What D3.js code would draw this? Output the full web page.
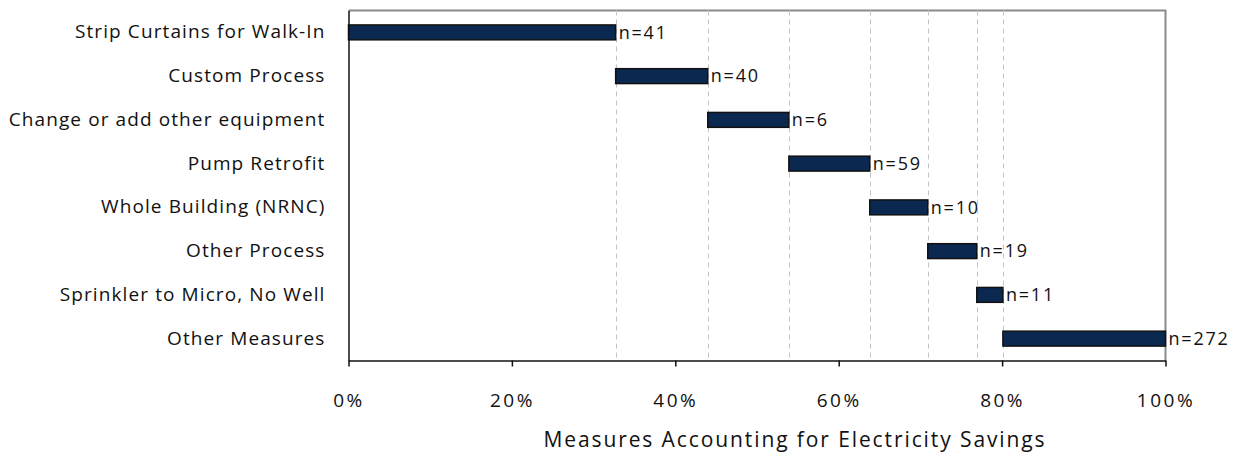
<!DOCTYPE html>
<html><head><meta charset="utf-8">
<script src="https://cdn.jsdelivr.net/npm/d3@7"></script>
<style>
body{margin:0;background:#fff;}
text{font-family:"Open Sans", Lato, sans-serif;fill:#111;}
</style></head>
<body><svg id="c" width="1235" height="456"></svg>
<script>
const categories = ["Strip Curtains for Walk-In","Custom Process","Change or add other equipment","Pump Retrofit","Whole Building (NRNC)","Other Process","Sprinkler to Micro, No Well","Other Measures"];
const cumulativeEnd = [0.327, 0.4397, 0.539, 0.638, 0.709, 0.769, 0.801, 1.0];
const counts = ["n=41","n=40","n=6","n=59","n=10","n=19","n=11","n=272"];
const xTicks = [0,0.2,0.4,0.6,0.8,1.0];
const xTitle = "Measures Accounting for Electricity Savings";

const data = categories.map((c,i)=>({cat:c, start: i===0?0:cumulativeEnd[i-1], end: cumulativeEnd[i], n: counts[i]}));

const svg = d3.select("#c");
const m = {l:348.5, r:1165.5, t:10.5, b:360.5};
const x = d3.scaleLinear().domain([0,1]).range([m.l, m.r]);
const y = d3.scaleBand().domain(categories).range([m.t, m.b]).paddingInner(0.66).paddingOuter(0.33);
const FF = "'Open Sans', Lato, sans-serif";

svg.append("path").attr("d",`M${m.l},${m.t}H${m.r}V${m.b}`).attr("fill","none").attr("stroke","#8a8a8a").attr("stroke-width",2);

svg.append("g").selectAll("line").data(cumulativeEnd.slice(0,-1)).join("line")
  .attr("x1",d=>Math.round(x(d))+0.5).attr("x2",d=>Math.round(x(d))+0.5)
  .attr("y1",m.t).attr("y2",m.b)
  .attr("stroke","#c4c4c4").attr("stroke-width",1).attr("stroke-dasharray","5,4");

svg.append("g").selectAll("rect").data(data).join("rect")
  .attr("x",d=>x(d.start)).attr("width",d=>x(d.end)-x(d.start))
  .attr("y",d=>y(d.cat)).attr("height",y.bandwidth())
  .attr("fill","#0b2850").attr("stroke","#111").attr("stroke-width",1.5);

svg.append("g").selectAll("text").data(data).join("text")
  .attr("x",d=>x(d.end)+3).attr("y",d=>y(d.cat)+y.bandwidth()/2)
  .attr("dy","0.35em").attr("font-size",18).style("letter-spacing","1.8px").text(d=>d.n);

const yAxis = svg.append("g").attr("transform",`translate(${m.l},0)`)
  .call(d3.axisLeft(y).tickSize(0).tickPadding(23));
yAxis.select(".domain").attr("stroke","#111").attr("stroke-width",1.5);
yAxis.selectAll("text").attr("font-size",19).style("font-family",FF).style("letter-spacing","1.1px").attr("fill","#111");

const xAxis = svg.append("g").attr("transform",`translate(0,${m.b})`)
  .call(d3.axisBottom(x).tickValues(xTicks).tickFormat(d3.format(".0%")).tickSizeInner(6).tickSizeOuter(0).tickPadding(27));
xAxis.select(".domain").attr("stroke","#111").attr("stroke-width",1.5);
xAxis.selectAll(".tick line").attr("stroke","#111").attr("stroke-width",1.5);
xAxis.selectAll("text").attr("font-size",19).style("font-family",FF).style("letter-spacing","2.5px").attr("fill","#111");

svg.append("text").attr("x",795).attr("y",447).attr("text-anchor","middle")
  .attr("font-size",21).style("letter-spacing","1.9px").text(xTitle);
</script></body></html>
